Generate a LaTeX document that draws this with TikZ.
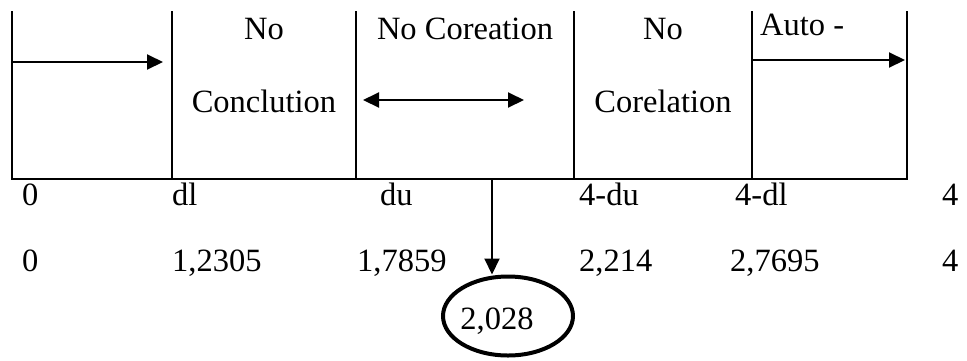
\documentclass[tikz,border=0pt]{standalone}
\usepackage{fontspec}
\setmainfont{Liberation Serif}
\usetikzlibrary{arrows.meta,shapes.geometric}
\begin{document}
\begin{tikzpicture}[x=1pt,y=-1pt,
  txt/.style={inner sep=0pt, font=\fontsize{32.5}{38}\selectfont},
  lbl/.style={txt, anchor=base west},
  ctr/.style={txt, anchor=base},
  frame/.style={line width=2.5pt},
  arr/.style={line width=2pt, -{Triangle[length=16pt,width=15pt]}},
  darr/.style={line width=2pt, {Triangle[length=16pt,width=15pt]}-{Triangle[length=16pt,width=15pt]}},
  oval/.style={draw, ellipse, line width=4pt, minimum width=130pt, minimum height=79pt, txt}
]
\useasboundingbox (0,0) rectangle (967,360);
% frame
\draw[frame] (12,11) -- (12,179) -- (907,179) -- (907,11);
\foreach \x in {172,356,574,752} \draw[frame] (\x,11) -- (\x,179);
% cell texts
\node[ctr] (no1) at (264,39) {No};
\node[ctr] (concl) at (264,112) {Conclution};
\node[ctr] (nocoreation) at (465,39) {No Coreation};
\node[ctr] (no2) at (663,39) {No};
\node[ctr] (corel) at (663,112) {Corelation};
\node[lbl] (auto) at (760,35) {Auto -};
% cell arrows
\coordinate (a1s) at (12,62);
\coordinate (a1e) at (163,62);
\draw[arr] (a1s) -- (a1e);
\coordinate (a2s) at (363,100);
\coordinate (a2e) at (524,100);
\draw[darr] (a2s) -- (a2e);
\coordinate (a3s) at (753,60);
\coordinate (a3e) at (905,60);
\draw[arr] (a3s) -- (a3e);
% row 1 labels
\node[lbl] (r1a) at (22,205) {0};
\node[lbl] (r1b) at (172,205) {dl};
\node[lbl] (r1c) at (380,205) {du};
\node[lbl] (r1d) at (579,205) {4-du};
\node[lbl] (r1e) at (735,205) {4-dl};
\node[lbl] (r1f) at (942,205) {4};
% row 2 labels
\node[lbl] (r2a) at (22,271) {0};
\node[lbl] (r2b) at (172,271) {1,2305};
\node[lbl] (r2c) at (357,271) {1,7859};
\node[lbl] (r2d) at (579,271) {2,214};
\node[lbl] (r2e) at (730,271) {2,7695};
\node[lbl] (r2f) at (942,271) {4};
% result
\node[oval] (ell) at (508,316) {\hspace*{-22pt}\raisebox{-5pt}[\height][\depth]{2,028}};
\coordinate (dtop) at (492,179);
\draw[arr] (dtop) -- (dtop |- ell.north);
\end{tikzpicture}
\end{document}
